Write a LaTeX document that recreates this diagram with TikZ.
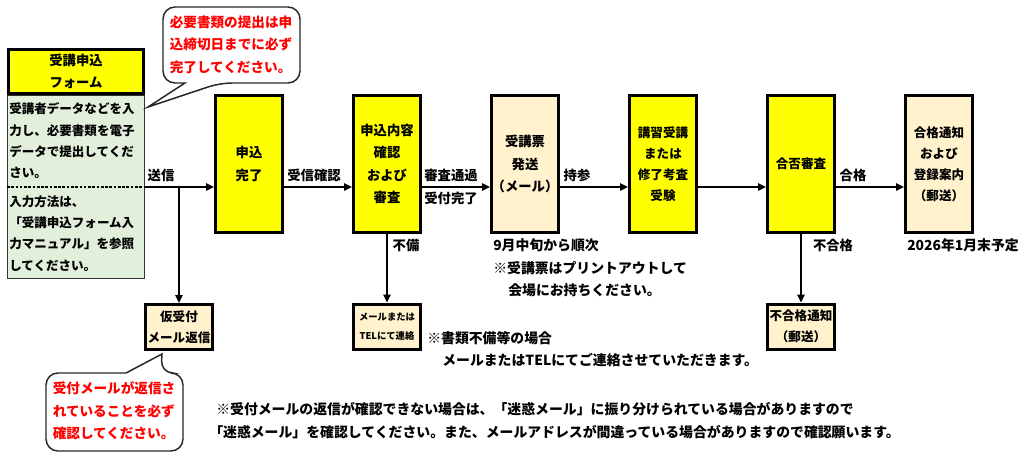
\documentclass[tikz,border=0pt]{standalone}
\usepackage{fontspec}
\setmainfont{Noto Sans CJK JP}
\usetikzlibrary{arrows.meta}
\definecolor{boxyellow}{HTML}{FFFF00}
\definecolor{boxtan}{HTML}{FFF2CC}
\definecolor{boxgreen}{HTML}{E2EFDA}
\definecolor{calloutred}{HTML}{FF0000}
\newcommand\fntbox{\fontsize{10}{16.9}\selectfont\bfseries}
\newcommand\fntboxs{\fontsize{9.4}{15.75}\selectfont\bfseries}
\newcommand\fntgreen{\fontsize{9.4}{16}\selectfont\bfseries}
\newcommand\fntnote{\fontsize{10.4}{17}\selectfont\bfseries}
\newcommand\fntred{\fontsize{10.2}{16.9}\selectfont\bfseries}
\newcommand\fnttiny{\fontsize{7}{14}\selectfont\bfseries}
\begin{document}
\begin{tikzpicture}[x=0.75pt,y=-0.75pt,
  flowbox/.style={draw=black, line width=2.25pt, inner sep=0pt,
    minimum width=50.25pt, minimum height=102.75pt, align=center},
  smallbox/.style={draw=black, line width=2.25pt, inner sep=0pt,
    minimum width=50.25pt, minimum height=33.75pt, align=center, fill=boxtan},
  lbl/.style={inner sep=0pt, font=\fntbox},
  note/.style={inner sep=0pt, font=\fntnote, anchor=west},
  flow/.style={line width=1.3pt, -{Triangle[length=6pt,width=5.5pt]}},
  callout/.style={draw=black!85, line width=1.1pt, fill=white},
  redtext/.style={inner sep=0pt, text=calloutred, font=\fntred, align=left}
]
\fill[white] (0,0) rectangle (1024,456);
\useasboundingbox (0,0) rectangle (1024,456);

% form
\node[draw=black!80, line width=1.1pt, fill=boxgreen, inner sep=0pt,
  minimum width=102.4pt, minimum height=136.9pt] (body) at (76,187) {};
\draw[dashed, line width=0.8pt, dash pattern=on 2pt off 1.2pt] (body.west) -- (body.east);
\node[draw=black, line width=2.25pt, fill=boxyellow, inner sep=0pt,
  minimum width=101.25pt, minimum height=33pt, align=center, font=\fntbox] (hdr) at (76,71.5)
  {受講申込\\フォーム};
\node[inner sep=0pt, anchor=west, align=left, font=\fntgreen] (g1) at (9,141)
  {受講者データなどを入\\力し、必要書類を電子\\データで提出してくだ\\さい。};
\node[inner sep=0pt, anchor=west, align=left, font=\fntgreen] (g2) at (9,233.5)
  {入力方法は、\\「受講申込フォーム入\\力マニュアル」を参照\\してください。};

% main boxes
\node[flowbox, fill=boxyellow, font=\fntbox] (mk) at (249,164) {申込\\完了};
\node[flowbox, fill=boxyellow, font=\fntbox] (sn) at (387,164) {申込内容\\確認\\および\\審査};
\node[flowbox, fill=boxtan, font=\fntbox] (jk) at (525,164) {受講票\\発送\\（メール）};
\node[flowbox, fill=boxyellow, font=\fntboxs] (ks) at (663,164) {講習受講\\または\\修了考査\\受験};
\node[flowbox, fill=boxyellow, font=\fntboxs] (gh) at (801,164) {合否審査};
\node[flowbox, fill=boxtan, font=\fntboxs] (gt) at (939,164) {合格通知\\および\\登録案内\\（郵送）};

% small boxes
\node[smallbox, font=\fntboxs] (kr) at (179,327) {仮受付\\メール返信};
\node[smallbox, font=\fnttiny] (ml) at (387,326.5) {メールまたは\\TELにて連絡};
\node[smallbox, font=\fntboxs] (fg) at (801,326.5) {不合格通知\\（郵送）};

% connectors
\coordinate (ay) at (0,187);
\draw[flow] (body.east) -- (body.east -| mk.west);
\coordinate (br) at (kr.north |- body.east);
\draw[flow] (br) -- (kr.north);
\draw[flow] (mk.east |- ay) -- (sn.west |- ay);
\draw[flow] (sn.east |- ay) -- (jk.west |- ay);
\draw[flow] (jk.east |- ay) -- (ks.west |- ay);
\draw[flow] (ks.east |- ay) -- (gh.west |- ay);
\draw[flow] (gh.east |- ay) -- (gt.west |- ay);
\draw[flow] (sn.south) -- (ml.north);
\draw[flow] (gh.south) -- (fg.north);

% connector labels
\node[lbl] (l1) at (161,175) {送信};
\node[lbl] (l2) at (314,175) {受信確認};
\node[lbl] (l3) at (451,175) {審査通過};
\node[lbl] (l4) at (451,198) {受付完了};
\node[lbl] (l5) at (577,175) {持参};
\node[lbl] (l6) at (853,175) {合格};
\node[lbl] (l7) at (406,245) {不備};
\node[lbl] (l8) at (833,245) {不合格};

% notes
\node[note] (n1) at (493,245) {9月中旬から順次};
\node[note] (n2) at (493,268) {※受講票はプリントアウトして};
\node[note] (n3) at (508,290) {会場にお持ちください。};
\node[note] (n4) at (907,245) {2026年1月末予定};
\node[note] (n5) at (427,338) {※書類不備等の場合};
\node[note] (n6) at (442,360) {メールまたはTELにてご連絡させていただきます。};
\node[note] (n7) at (216,409) {※受付メールの返信が確認できない場合は、「迷惑メール」に振り分けられている場合がありますので};
\node[note] (n8) at (209,432) {「迷惑メール」を確認してください。また、メールアドレスが間違っている場合がありますので確認願います。};

% callouts
\draw[callout] (185,83) [rounded corners=9] -- (163,83) -- (163,7) -- (300,7) -- (300,83) -- (220,83) [sharp corners] -- (148,107) -- cycle;
\node[redtext] (c1) at (231,44.5) {必要書類の提出は申\\込締切日までに必ず\\完了してください。};
\draw[callout] (126,373) [rounded corners=9] -- (46,373) -- (46,451) -- (183,451) -- (183,373) -- (161,373) [sharp corners] -- (162,354) -- cycle;
\node[redtext] (c2) at (114,411) {受付メールが返信さ\\れていることを必ず\\確認してください。};
\end{tikzpicture}
\end{document}
